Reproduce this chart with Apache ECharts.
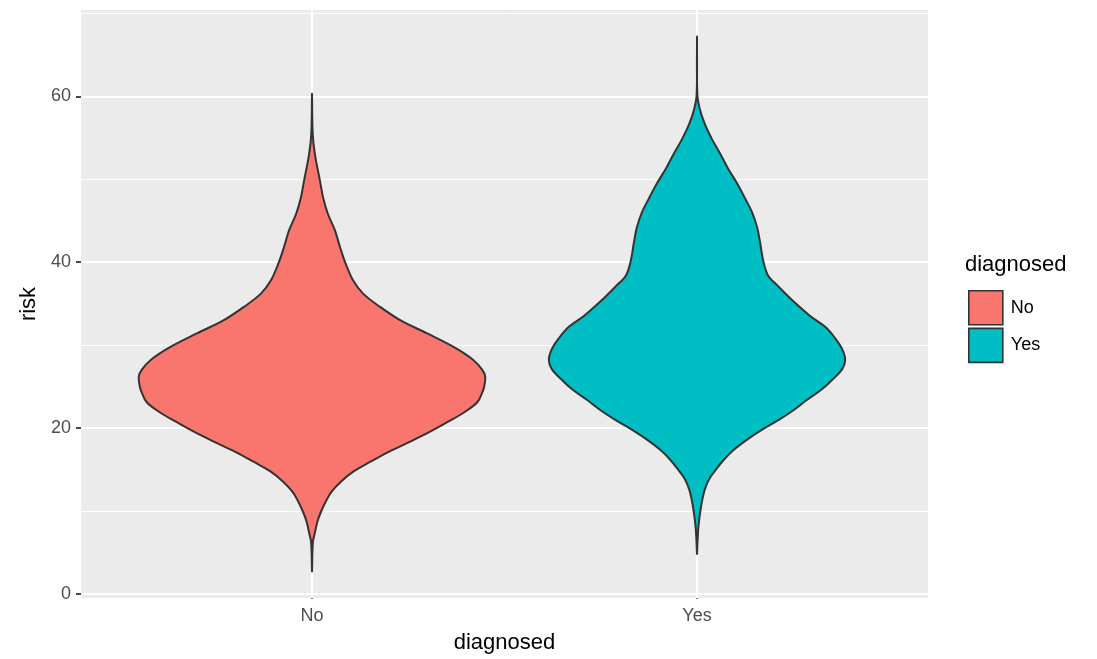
<!DOCTYPE html>
<html>
<head>
<meta charset="utf-8">
<script src="https://cdn.jsdelivr.net/npm/echarts@6/dist/echarts.min.js"></script>
<style>
html,body{margin:0;padding:0;background:#fff;}
#chart{width:1097px;height:659px;}
</style>
</head>
<body>
<div id="chart"></div>
<script>
// ---- data ----
const categories = ['No', 'Yes'];
const colors = ['#F8766D', '#00BFC4'];
const yTicks = [0, 20, 40, 60];
const yMinorGrid = [10, 30, 50, 70];

// violin outline: risk values and relative density (1 = widest violin)
const riskNo = [60.3, 55.5, 53.0, 49.8, 47.8, 45.8, 43.8, 41.8, 40.0, 37.8, 36.2, 34.6, 33.0, 31.4, 29.8, 28.2, 27.0, 26.2, 25.0, 24.3, 23.1, 21.9, 20.7, 19.5, 18.3, 17.1, 15.9, 14.7, 13.5, 12.3, 11.1, 9.9, 8.7, 7.4, 6.2, 2.7];
const densNo = [0, 0.004, 0.017, 0.046, 0.064, 0.092, 0.133, 0.162, 0.191, 0.237, 0.295, 0.393, 0.509, 0.665, 0.815, 0.931, 0.983, 1.0, 0.994, 0.983, 0.954, 0.879, 0.780, 0.676, 0.561, 0.440, 0.335, 0.236, 0.165, 0.112, 0.079, 0.052, 0.031, 0.017, 0.005, 0];

const riskYes = [67.2, 60.2, 58.4, 56.6, 54.8, 53.1, 51.3, 49.5, 47.7, 46.0, 44.2, 42.4, 40.2, 38.4, 37.1, 35.3, 33.5, 32.2, 30.8, 29.5, 28.2, 27.1, 25.7, 24.6, 23.4, 22.2, 21.0, 19.8, 18.6, 17.4, 16.2, 15.0, 13.8, 12.6, 11.4, 10.2, 9.0, 7.5, 4.8];
const densYes = [0, 0.002, 0.017, 0.046, 0.087, 0.133, 0.179, 0.231, 0.277, 0.318, 0.347, 0.364, 0.382, 0.410, 0.468, 0.555, 0.653, 0.740, 0.798, 0.838, 0.855, 0.838, 0.775, 0.717, 0.636, 0.561, 0.474, 0.376, 0.289, 0.214, 0.156, 0.110, 0.069, 0.045, 0.031, 0.021, 0.013, 0.006, 0];

const VIOLIN_HALF = 0.45; // half of ggplot violin width 0.9

const FONT = '"Liberation Sans", Arial, Helvetica, sans-serif';

function violinRender(cat, risk, dens, fill) {
  return function (params, api) {
    const pts = [];
    for (let i = 0; i < risk.length; i++) pts.push(api.coord([cat + dens[i] * VIOLIN_HALF, risk[i]]));
    for (let i = risk.length - 1; i >= 0; i--) pts.push(api.coord([cat - dens[i] * VIOLIN_HALF, risk[i]]));
    return {
      type: 'polygon',
      shape: { points: pts, smooth: 0.35 },
      style: { fill: fill, stroke: '#333333', lineWidth: 2, lineJoin: 'round' }
    };
  };
}

const gridLines = [];
yTicks.forEach(v => gridLines.push({ yAxis: v, lineStyle: { color: '#ffffff', width: 2, type: 'solid' } }));
yMinorGrid.forEach(v => gridLines.push({ yAxis: v, lineStyle: { color: '#ffffff', width: 1, type: 'solid' } }));
categories.forEach((c, i) => gridLines.push({ xAxis: i + 1, lineStyle: { color: '#ffffff', width: 2, type: 'solid' } }));

const chart = echarts.init(document.getElementById('chart'), null, { renderer: 'canvas' });
chart.setOption({
  animation: false,
  backgroundColor: '#ffffff',
  textStyle: { fontFamily: FONT },
  title: {
    text: 'diagnosed',
    left: 960, top: 249,
    textStyle: { fontFamily: FONT, fontSize: 22, fontWeight: 'normal', color: '#000000' }
  },
  legend: {
    orient: 'vertical',
    left: 963, top: 285,
    icon: 'rect',
    itemWidth: 34, itemHeight: 34,
    itemGap: 2,
    data: categories,
    itemStyle: { borderColor: '#333333', borderWidth: 1.6 },
    textStyle: { fontFamily: FONT, fontSize: 18, color: '#000000', padding: [0, 0, 0, 3] }
  },
  grid: {
    left: 81, right: 169, top: 10, bottom: 60,
    show: true, backgroundColor: '#EBEBEB', borderWidth: 0
  },
  xAxis: {
    type: 'value',
    min: 0.4, max: 2.6,
    name: 'diagnosed',
    nameLocation: 'middle',
    nameGap: 34,
    nameTextStyle: { fontFamily: FONT, fontSize: 22, color: '#000000' },
    axisLine: { show: false },
    axisTick: { show: true, customValues: [1, 2], length: 5, lineStyle: { color: '#333333', width: 1.8 } },
    axisLabel: {
      customValues: [1, 2], margin: 9,
      fontFamily: FONT, fontSize: 18, color: '#4D4D4D',
      formatter: v => categories[Math.round(v) - 1] || ''
    },
    splitLine: { show: false }
  },
  yAxis: {
    type: 'value',
    min: -0.5, max: 70.4,
    name: 'risk',
    nameLocation: 'middle',
    nameGap: 35,
    nameTextStyle: { fontFamily: FONT, fontSize: 22, color: '#000000' },
    axisLine: { show: false },
    axisTick: { show: true, customValues: yTicks, length: 5, lineStyle: { color: '#333333', width: 1.8 } },
    axisLabel: {
      customValues: yTicks, margin: 10,
      fontFamily: FONT, fontSize: 18, color: '#4D4D4D'
    },
    splitLine: { show: false }
  },
  series: [
    {
      name: 'No',
      type: 'custom',
      z: 3,
      itemStyle: { color: colors[0], borderColor: '#333333', borderWidth: 1.6 },
      renderItem: violinRender(1, riskNo, densNo, colors[0]),
      data: [[1, 26]],
      markLine: {
        silent: true, symbol: 'none', z: 1,
        label: { show: false },
        data: gridLines
      }
    },
    {
      name: 'Yes',
      type: 'custom',
      z: 3,
      itemStyle: { color: colors[1], borderColor: '#333333', borderWidth: 1.6 },
      renderItem: violinRender(2, riskYes, densYes, colors[1]),
      data: [[2, 28]]
    }
  ]
});
</script>
</body>
</html>
